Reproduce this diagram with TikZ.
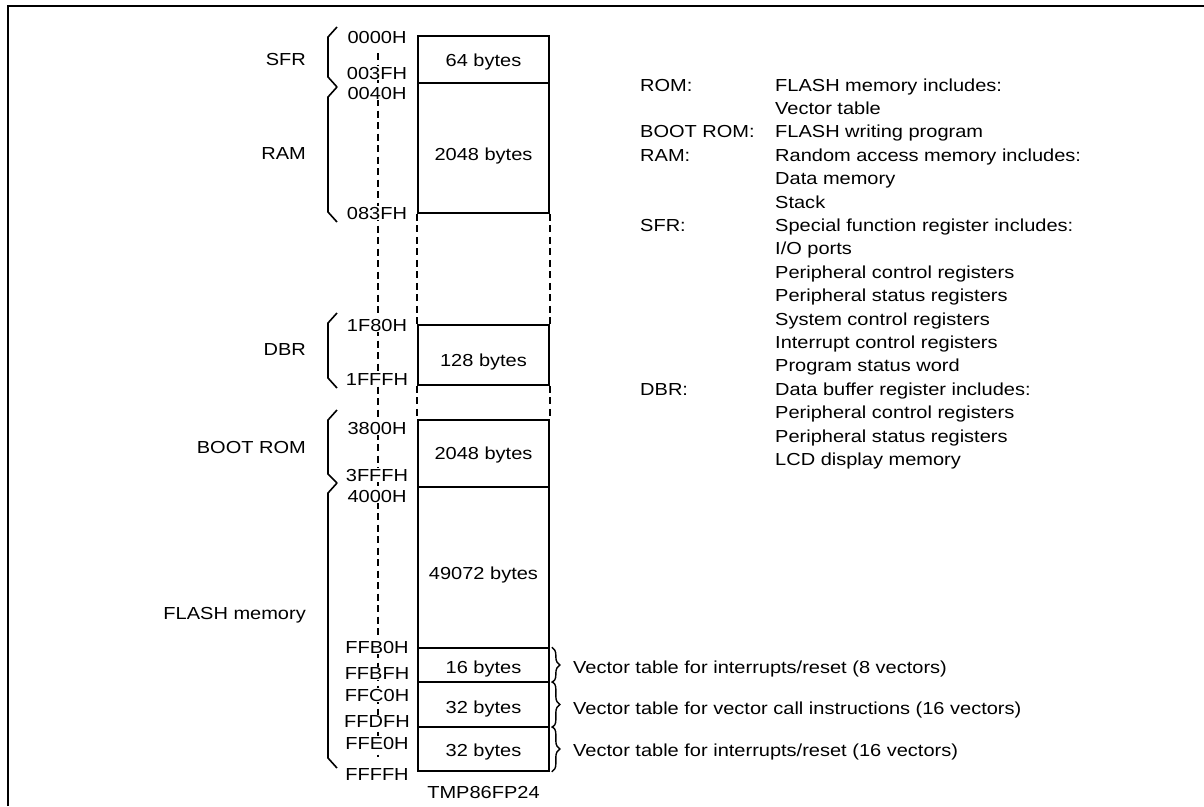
\documentclass[tikz,border=0pt]{standalone}
\usepackage{fontspec}
\setmainfont{Liberation Sans}[FakeStretch=1.15]
\usetikzlibrary{decorations.pathreplacing}
\newcommand{\mytxtfont}{\fontsize{17.4}{20}\selectfont}
\begin{document}
\begin{tikzpicture}[x=1pt,y=-1pt,
  txt/.style={inner sep=0pt, font=\mytxtfont, anchor=base},
  lefttxt/.style={txt, anchor=base west},
  righttxt/.style={txt, anchor=base east},
  addr/.style={txt, fill=white, inner xsep=1pt, inner ysep=0.5pt},
  membox/.style={draw, line width=1.7pt, inner sep=0pt, minimum width=131pt},
  dashline/.style={line width=1.4pt, dash pattern=on 7pt off 4.5pt},
  bracket/.style={line width=1.6pt},
  vbrace/.style={line width=1.4pt, decorate, decoration={brace, amplitude=8pt}},
  frame/.style={line width=1.8pt}
]
\useasboundingbox (0,0) rectangle (1204,806);
% frame
\draw[frame] (8.2,806) -- (8.2,6) -- (1204,6);

% left dashed address line
\coordinate (dtop) at (378,53);
\coordinate (dbot) at (378,757);
\draw[dashline] (dtop) -- (dbot);

% memory boxes
\node[membox, minimum height=47pt]  (sfr)   at (483.5,59.5)  {};
\node[membox, minimum height=130pt] (ram)   at (483.5,148)   {};
\node[membox, minimum height=60pt]  (dbr)   at (483.5,355)   {};
\node[membox, minimum height=67pt]  (boot)  at (483.5,453.5) {};
\node[membox, minimum height=161pt] (flash) at (483.5,567.5) {};
\node[membox, minimum height=34pt]  (v1)    at (483.5,665)   {};
\node[membox, minimum height=45pt]  (v2)    at (483.5,704.5) {};
\node[membox, minimum height=44pt]  (v3)    at (483.5,749)   {};

% dashed continuation lines
\draw[dashline] (ram.south west) -- (dbr.north west);
\draw[dashline] (ram.south east) -- (dbr.north east);
\draw[dashline] (dbr.south west) -- (boot.north west);
\draw[dashline] (dbr.south east) -- (boot.north east);

% box texts
\node[txt] (tsfr)   at (483.5,66)  {64 bytes};
\node[txt] (tram)   at (483.5,160) {2048 bytes};
\node[txt] (tdbr)   at (483.5,366) {128 bytes};
\node[txt] (tboot)  at (483.5,459) {2048 bytes};
\node[txt] (tflash) at (483.5,579) {49072 bytes};
\node[txt] (tv1)    at (483.5,673) {16 bytes};
\node[txt] (tv2)    at (483.5,713) {32 bytes};
\node[txt] (tv3)    at (483.5,756) {32 bytes};
\node[txt] (chip)   at (483.5,798) {TMP86FP24};

% address labels
\node[addr] (a1)  at (377,43)  {0000H};
\node[addr] (a2)  at (377,79)  {003FH};
\node[addr] (a3)  at (377,99)  {0040H};
\node[addr] (a4)  at (377,219) {083FH};
\node[addr] (a5)  at (377,331) {1F80H};
\node[addr] (a6)  at (377,385) {1FFFH};
\node[addr] (a7)  at (377,434) {3800H};
\node[addr] (a8)  at (377,481) {3FFFH};
\node[addr] (a9)  at (377,502) {4000H};
\node[addr] (a10) at (377,653) {FFB0H};
\node[addr] (a11) at (377,679) {FFBFH};
\node[addr] (a12) at (377,701) {FFC0H};
\node[addr] (a13) at (377,727) {FFDFH};
\node[addr] (a14) at (377,749) {FFE0H};
\node[addr] (a15) at (377,780) {FFFFH};

% left brackets
\draw[bracket] (337,27) -- (328,37) -- (328,77) -- (337,87);
\draw[bracket] (337,87) -- (328,97) -- (328,212) -- (337,222);
\draw[bracket] (337,313) -- (328,323) -- (328,378) -- (337,388);
\draw[bracket] (337,410) -- (328,420) -- (328,474) -- (337,483);
\draw[bracket] (337,483) -- (328,493) -- (328,758) -- (337,768);

% left region labels
\node[righttxt] (lsfr)   at (306,65)  {SFR};
\node[righttxt] (lram)   at (306,159) {RAM};
\node[righttxt] (ldbr)   at (306,355) {DBR};
\node[righttxt] (lboot)  at (306,453) {BOOT ROM};
\node[righttxt] (lflash) at (306,619) {FLASH memory};

% vector braces
\draw[vbrace] ([xshift=2pt]v1.north east) -- ([xshift=2pt]v1.south east);
\draw[vbrace] ([xshift=2pt]v2.north east) -- ([xshift=2pt]v2.south east);
\draw[vbrace] ([xshift=2pt]v3.north east) -- ([xshift=2pt]v3.south east);
\node[lefttxt] (d1) at (573,673) {Vector table for interrupts/reset (8 vectors)};
\node[lefttxt] (d2) at (573,714) {Vector table for vector call instructions (16 vectors)};
\node[lefttxt] (d3) at (573,756) {Vector table for interrupts/reset (16 vectors)};

% legend
\node[lefttxt] (k1) at (640,91)    {ROM:};
\node[lefttxt] (k2) at (640,137.8) {BOOT ROM:};
\node[lefttxt] (k3) at (640,161.2) {RAM:};
\node[lefttxt] (k4) at (640,231.4) {SFR:};
\node[lefttxt] (k5) at (640,395.2) {DBR:};
\node[lefttxt] (e0)  at (775,91)    {FLASH memory includes:};
\node[lefttxt] (e1)  at (775,114.4) {Vector table};
\node[lefttxt] (e2)  at (775,137.8) {FLASH writing program};
\node[lefttxt] (e3)  at (775,161.2) {Random access memory includes:};
\node[lefttxt] (e4)  at (775,184.6) {Data memory};
\node[lefttxt] (e5)  at (775,208)   {Stack};
\node[lefttxt] (e6)  at (775,231.4) {Special function register includes:};
\node[lefttxt] (e7)  at (775,254.8) {I/O ports};
\node[lefttxt] (e8)  at (775,278.2) {Peripheral control registers};
\node[lefttxt] (e9)  at (775,301.6) {Peripheral status registers};
\node[lefttxt] (e10) at (775,325)   {System control registers};
\node[lefttxt] (e11) at (775,348.4) {Interrupt control registers};
\node[lefttxt] (e12) at (775,371.8) {Program status word};
\node[lefttxt] (e13) at (775,395.2) {Data buffer register includes:};
\node[lefttxt] (e14) at (775,418.6) {Peripheral control registers};
\node[lefttxt] (e15) at (775,442)   {Peripheral status registers};
\node[lefttxt] (e16) at (775,465.4) {LCD display memory};
\end{tikzpicture}
\end{document}
